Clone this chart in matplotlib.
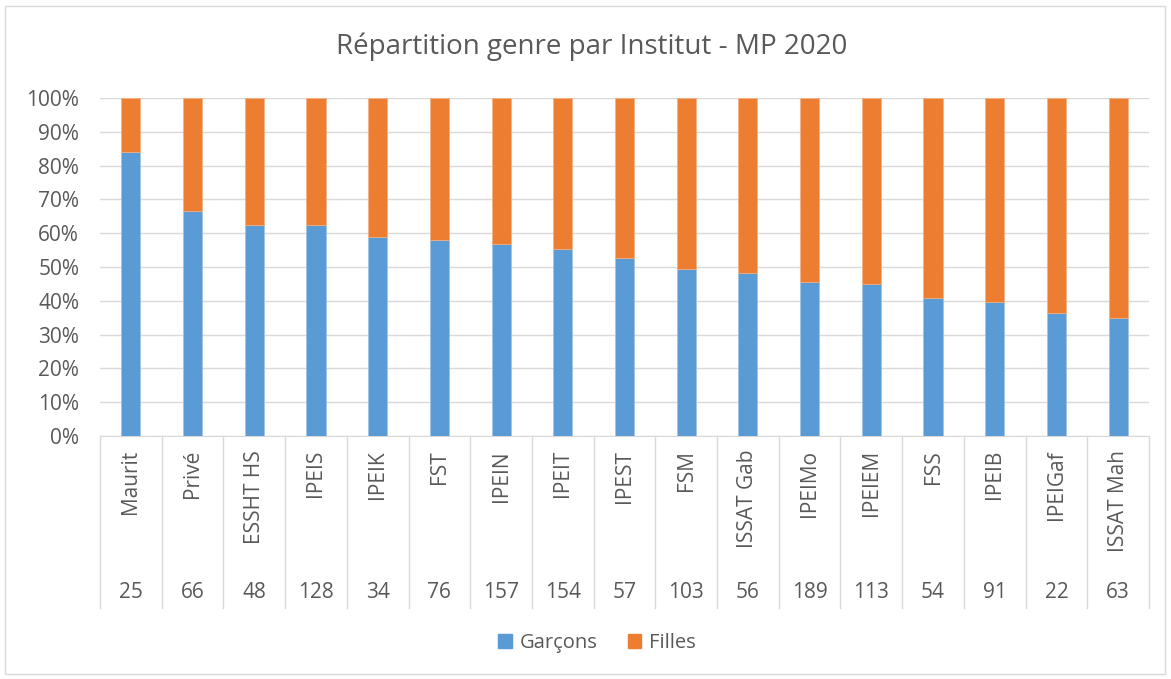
import matplotlib
matplotlib.use("Agg")
import matplotlib.pyplot as plt
from matplotlib.patches import Rectangle, Patch
from matplotlib.ticker import FuncFormatter, MultipleLocator

plt.rcParams['font.family'] = ['Open Sans', 'DejaVu Sans']

title = "Répartition genre par Institut - MP 2020"
instituts = ["Maurit", "Privé", "ESSHT HS", "IPEIS", "IPEIK", "FST", "IPEIN", "IPEIT",
             "IPEST", "FSM", "ISSAT Gab", "IPEIMo", "IPEIEM", "FSS", "IPEIB", "IPEIGaf", "ISSAT Mah"]
effectifs = [25, 66, 48, 128, 34, 76, 157, 154, 57, 103, 56, 189, 113, 54, 91, 22, 63]
garcons_pct = [84.0, 66.7, 62.5, 62.5, 58.8, 57.9, 56.7, 55.2, 52.6, 49.5, 48.2, 45.5, 45.1,
               40.7, 39.6, 36.4, 34.9]
filles_pct = [100 - g for g in garcons_pct]
series_names = ["Garçons", "Filles"]
colors = ["#5B9BD5", "#ED7D31"]
text_color = "#595959"
grid_color = "#D9D9D9"

W, H = 1171, 679
fig = plt.figure(figsize=(W / 100, H / 100), dpi=100)
fig.patches.append(Rectangle((5 / W, 5 / H), 1 - 11 / W, 1 - 11 / H, transform=fig.transFigure,
                             fill=False, edgecolor=grid_color, linewidth=1))

left, right, top, bottom = 100, 1149, 98, 436
ax = fig.add_axes([left / W, 1 - bottom / H, (right - left) / W, (bottom - top) / H])
ax_h = bottom - top

x = list(range(len(instituts)))
ax.bar(x, garcons_pct, width=0.31, color=colors[0], edgecolor="#9DC3E6", linewidth=0.5, zorder=3)
ax.bar(x, filles_pct, width=0.31, bottom=garcons_pct, color=colors[1], edgecolor="#F4B183",
       linewidth=0.5, zorder=3)

ax.set_xlim(-0.5, len(instituts) - 0.5)
ax.set_ylim(0, 100)
ax.yaxis.set_major_locator(MultipleLocator(10))
ax.yaxis.set_major_formatter(FuncFormatter(lambda v, p: f"{int(round(v))}%"))
ax.grid(axis="y", color=grid_color, linewidth=1, zorder=0)
for s in ["top", "right", "left"]:
    ax.spines[s].set_visible(False)
ax.spines["bottom"].set_color(grid_color)
ax.tick_params(axis="y", length=0, labelsize=15, labelcolor=text_color, pad=15)
ax.set_xticks([])

trans = ax.get_xaxis_transform()
sep_y = -(608 - bottom) / ax_h
for i in range(len(instituts) + 1):
    ax.plot([i - 0.5, i - 0.5], [0, sep_y], transform=trans, color=grid_color,
            linewidth=1, clip_on=False)
for i, (name, n) in enumerate(zip(instituts, effectifs)):
    ax.text(i, -(450 - bottom) / ax_h, name, transform=trans, rotation=90, ha="center",
            va="top", fontsize=15, color=text_color)
    ax.text(i, -(593 - bottom) / ax_h, str(n), transform=trans, ha="center", va="center",
            fontsize=15, color=text_color)

fig.text(592 / W, 1 - 47 / H, title, ha="center", va="center", fontsize=20, color=text_color)

handles = [Patch(facecolor=c, edgecolor=c) for c in colors]
fig.legend(handles, series_names, loc="center", bbox_to_anchor=(597 / W, 1 - 643 / H), ncol=2,
           frameon=False, fontsize=14.5, labelcolor=text_color, handlelength=0.65,
           handleheight=0.65, handletextpad=0.4, columnspacing=1.5)

fig.savefig("out.png", dpi=100)
